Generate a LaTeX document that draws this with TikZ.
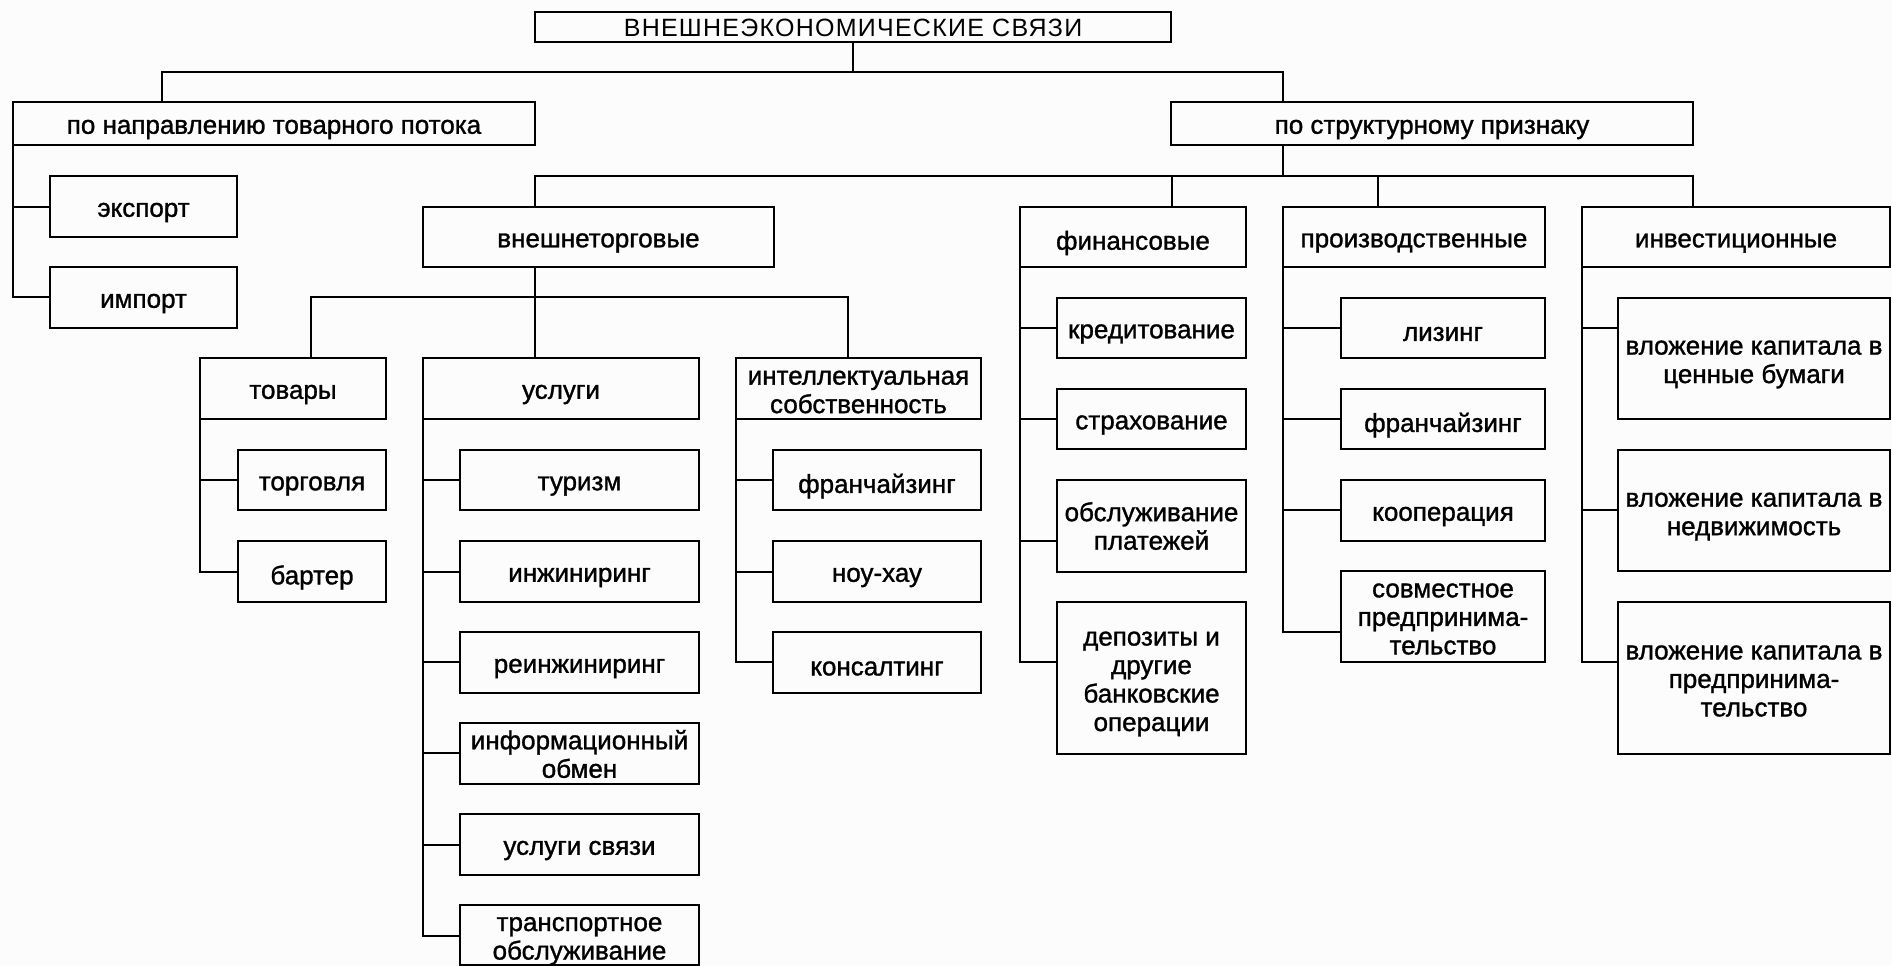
\documentclass[tikz,border=0pt]{standalone}
\usepackage{fontspec}
\setmainfont{Liberation Sans}
\newfontfamily\labfam{Liberation Sans}[RawFeature={embolden=1.2}]
\newfontfamily\titfam{Liberation Sans}[LetterSpace=5]
\definecolor{bgc}{RGB}{252,252,252}
\newcommand{\labfont}{\labfam\fontsize{26}{28.5}\selectfont}
\newcommand{\titfont}{\titfam\fontsize{25}{28}\selectfont}
% \mybox[text shift]{name}{x1}{y1}{x2}{y2}{text}
\newcommand{\mybox}[7][-6]{\node[bx, minimum width={(#5)-(#3)}, minimum height={(#6)-(#4)}] (#2) at ({((#3)+(#5))/2},{((#4)+(#6))/2}) {};
  \node[txt] (#2-t) at ([yshift=#1pt]#2.center) {#7};}
% \mybr{parent}{child}{y}
\newcommand{\mybr}[3]{\draw[ln] (#1.south west) |- (#2.west |- 0,#3);}
\begin{document}
\begin{tikzpicture}[x=1pt,y=-1pt,
  bx/.style={draw=black, line width=2pt, inner sep=0pt, outer sep=0pt},
  txt/.style={inner sep=0pt, align=center, font=\labfont, text=black},
  ln/.style={draw=black, line width=2pt}]
\fill[bgc] (0,0) rectangle (1892,966);
\useasboundingbox (0,0) rectangle (1892,966);

% level 0 and 1
\node[bx, minimum width=636, minimum height=30] (title) at (853,27) {};
\node[txt, font=\titfont] (title-t) at ([yshift=-1pt]title.center) {ВНЕШНЕЭКОНОМИЧЕСКИЕ СВЯЗИ};
\mybox{napr}{13}{102}{535}{145}{по направлению товарного потока}
\mybox{strukt}{1171}{102}{1693}{145}{по структурному признаку}

% left tree
\mybox{export}{50}{176}{237}{237}{экспорт}
\mybox{import}{50}{267}{237}{328}{импорт}

% level 2
\mybox{vt}{423}{207}{774}{267}{внешнеторговые}
\mybox{fin}{1020}{207}{1246}{267}{финансовые}
\mybox{prod}{1283}{207}{1545}{267}{производственные}
\mybox{inv}{1582}{207}{1890}{267}{инвестиционные}

% level 3 under vt
\mybox{tov}{200}{358}{386}{419}{товары}
\mybox{usl}{423}{358}{699}{419}{услуги}
\mybox[-3.5]{intel}{736}{358}{981}{419}{интеллектуальная\\собственность}

\mybox{torg}{238}{450}{386}{510}{торговля}
\mybox{barter}{238}{541}{386}{602}{бартер}

\mybox{tur}{460}{450}{699}{510}{туризм}
\mybox{inzh}{460}{541}{699}{602}{инжиниринг}
\mybox{reinzh}{460}{632}{699}{693}{реинжиниринг}
\mybox[-0.5]{info}{460}{723}{699}{784}{информационный\\обмен}
\mybox{sv}{460}{814}{699}{875}{услуги связи}
\mybox{trans}{460}{905}{699}{965}{транспортное\\обслуживание}

\mybox{fr1}{773}{450}{981}{510}{франчайзинг}
\mybox{nou}{773}{541}{981}{602}{ноу-хау}
\mybox{kons}{773}{632}{981}{693}{консалтинг}

% financial
\mybox{kred}{1057}{298}{1246}{358}{кредитование}
\mybox{strah}{1057}{389}{1246}{449}{страхование}
\mybox[0]{obsl}{1057}{480}{1246}{572}{обслуживание\\платежей}
\mybox{dep}{1057}{602}{1246}{754}{депозиты и\\другие\\банковские\\операции}

% production
\mybox{liz}{1341}{298}{1545}{358}{лизинг}
\mybox{fr2}{1341}{389}{1545}{449}{франчайзинг}
\mybox{koop}{1341}{480}{1545}{541}{кооперация}
\mybox[-2.5]{sovm}{1341}{571}{1545}{662}{совместное\\предпринима-\\тельство}

% investment
\mybox{inv1}{1618}{298}{1890}{419}{вложение капитала в\\ценные бумаги}
\mybox{inv2}{1618}{450}{1890}{571}{вложение капитала в\\недвижимость}
\mybox[-3]{inv3}{1618}{602}{1890}{754}{вложение капитала в\\предпринима-\\тельство}

% connectors: level 0 -> 1
\draw[ln] (title.south) -- (title.south |- 0,72);
\draw[ln] (napr.north -| 162,0) |- (title.south |- 0,72) -| (strukt.north -| 1283,0);

% napr subtree
\mybr{napr}{export}{207}
\mybr{napr}{import}{297}

% strukt -> level 2
\draw[ln] (strukt.south -| 1283,0) -- (1283,176);
\draw[ln] (vt.north -| 535,0) -- (535,176) -| (inv.north -| 1693,0);
\draw[ln] (fin.north -| 1172,0) -- (1172,176);
\draw[ln] (prod.north -| 1378,0) -- (1378,176);

% vt -> level 3
\draw[ln] (vt.south -| 535,0) -- (usl.north -| 535,0);
\draw[ln] (tov.north -| 311,0) |- (535,297) -| (intel.north -| 848,0);

% tov subtree
\mybr{tov}{torg}{480}
\mybr{tov}{barter}{572}
% usl subtree
\mybr{usl}{tur}{480}
\mybr{usl}{inzh}{572}
\mybr{usl}{reinzh}{662}
\mybr{usl}{info}{753}
\mybr{usl}{sv}{845}
\mybr{usl}{trans}{936}
% intel subtree
\mybr{intel}{fr1}{480}
\mybr{intel}{nou}{572}
\mybr{intel}{kons}{662}
% fin subtree
\mybr{fin}{kred}{328}
\mybr{fin}{strah}{419}
\mybr{fin}{obsl}{541}
\mybr{fin}{dep}{662}
% prod subtree
\mybr{prod}{liz}{328}
\mybr{prod}{fr2}{419}
\mybr{prod}{koop}{510}
\mybr{prod}{sovm}{632}
% inv subtree
\mybr{inv}{inv1}{328}
\mybr{inv}{inv2}{510}
\mybr{inv}{inv3}{662}
\end{tikzpicture}
\end{document}
